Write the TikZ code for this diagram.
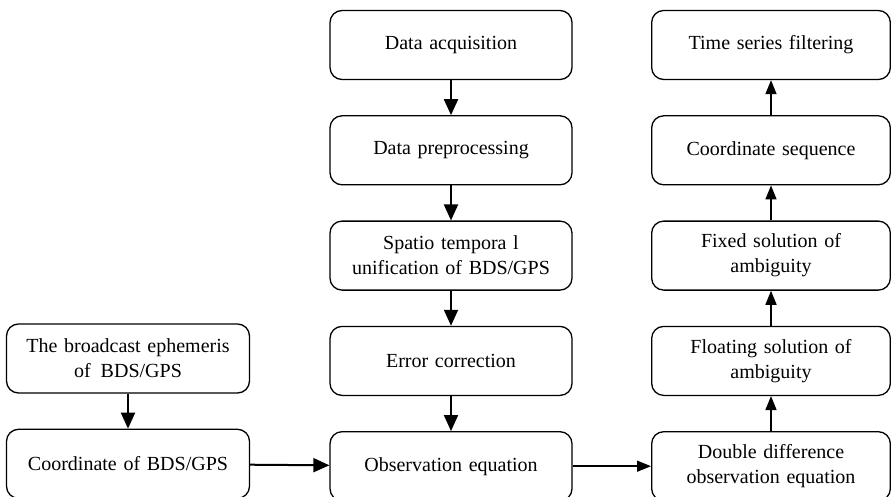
\documentclass[tikz,border=0pt]{standalone}
\usepackage{fontspec}
\setmainfont{Liberation Serif}
\usepackage{tikz}
\usetikzlibrary{arrows.meta,positioning}

\begin{document}
\begin{tikzpicture}[
    x=1pt, y=-1pt,
    box/.style={rectangle, draw=black, line width=1.3pt, rounded corners=12pt, minimum width=242pt, minimum height=69pt, text width=232pt, align=center, font=\fontsize{20}{25}\selectfont, fill=white},
    arr/.style={-{Triangle[length=16pt,width=14pt]}, line width=2pt},
    thin arr/.style={-{Triangle[length=14pt,width=11pt]}, line width=1.5pt},
    node distance=35pt
]
    \useasboundingbox (0,0) rectangle (893,497);

    % Middle column
    \node[box] (acq) at (451,45) {Data acquisition};
    \node[box, below=of acq] (pre) {Data preprocessing};
    \node[box, below=of pre] (unif) {Spatio tempora l\\unification of BDS/GPS};
    \node[box, below=of unif] (err) {Error correction};
    \node[box, below=of err] (obs) {Observation equation};

    % Left column
    \node[box, minimum width=243pt] (eph) at (128,358.5) {The broadcast ephemeris\\of\enspace BDS/GPS};
    \node[box, minimum width=243pt, below=of eph] (coord) {Coordinate of BDS/GPS};

    % Right column
    \node[box, minimum width=238pt] (ts) at (771,45) {Time series filtering};
    \node[box, minimum width=238pt, below=of ts] (seq) {Coordinate sequence};
    \node[box, minimum width=238pt, below=of seq] (fix) {Fixed solution of\\ambiguity};
    \node[box, minimum width=238pt, below=of fix] (flt) {Floating solution of\\ambiguity};
    \node[box, minimum width=238pt, below=of flt] (dd) {Double difference\\observation equation};

    % Arrows
    \foreach \a/\b in {acq/pre, pre/unif, unif/err, err/obs, eph/coord} {
        \draw[arr] (\a) -- (\b);
    }
    \draw[arr] (coord) -- (obs);
    \draw[thin arr] (obs) -- (dd);
    \foreach \a/\b in {dd/flt, flt/fix, fix/seq, seq/ts} {
        \draw[thin arr] (\a) -- (\b);
    }

\end{tikzpicture}
\end{document}
